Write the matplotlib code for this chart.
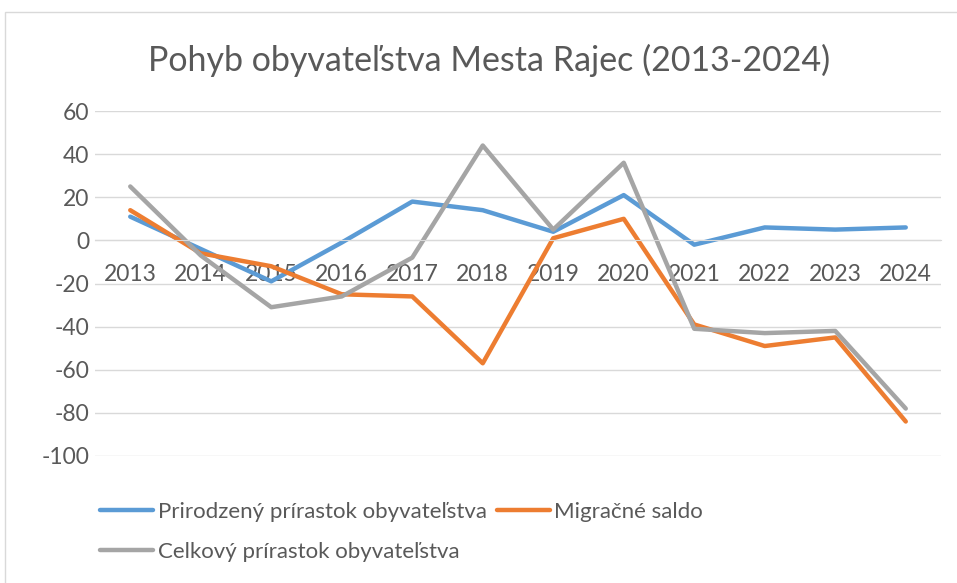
import matplotlib.pyplot as plt
from matplotlib.patches import Rectangle

years = ['2013', '2014', '2015', '2016', '2017', '2018', '2019', '2020', '2021', '2022', '2023', '2024']
natural = [11, -4, -19, -1, 18, 14, 4, 21, -2, 6, 5, 6]
migration = [14, -6, -12, -25, -26, -57, 1, 10, -39, -49, -45, -84]
total = [25, -7, -31, -26, -8, 44, 5, 36, -41, -43, -42, -78]

labels = ['Prirodzený prírastok obyvateľstva', 'Migračné saldo', 'Celkový prírastok obyvateľstva']
colors = ['#5B9BD5', '#ED7D31', '#A5A5A5']
yticks = [60, 40, 20, 0, -20, -40, -60, -80, -100]

plt.rcParams['font.family'] = ['Lato', 'DejaVu Sans']

fig = plt.figure(figsize=(9.57, 5.83), dpi=100)
ax = fig.add_axes([95 / 957, 1 - 456 / 583, (941 - 95) / 957, (456 - 111) / 583])

x = range(len(years))
lines = []
for series, col, lab in zip([natural, migration, total], colors, labels):
    ln, = ax.plot(x, series, color=col, lw=3.2, label=lab, solid_capstyle='round', solid_joinstyle='round')
    lines.append(ln)

ax.set_xlim(-0.5, len(years) - 0.5)
ax.set_ylim(-100, 60)
ax.set_yticks(yticks)
ax.set_yticklabels([str(v) for v in yticks], fontsize=16.5, color='#595959')
ax.yaxis.grid(True, color='#d9d9d9', lw=1)
ax.set_axisbelow(True)
for s in ['top', 'right', 'left']:
    ax.spines[s].set_visible(False)
ax.spines['bottom'].set_position(('data', 0))
ax.spines['bottom'].set_color('#d9d9d9')
ax.set_xticks(list(x))
ax.set_xticklabels(years, fontsize=16.5, color='#595959')
ax.tick_params(axis='both', length=0)
ax.tick_params(axis='x', pad=17)
ax.tick_params(axis='y', pad=4)

fig.text(0.511, 1 - 60 / 583, 'Pohyb obyvateľstva Mesta Rajec (2013-2024)', ha='center', va='center',
         fontsize=24.5, color='#595959')

# chart border
fig.patches.append(Rectangle((5 / 957, -0.01), 1.1, 1 - 12 / 583 + 0.01, transform=fig.transFigure,
                             fill=False, edgecolor='#d9d9d9', lw=1))

handles = [lines[0], lines[2], lines[1]]
leg = fig.legend(handles, [h.get_label() for h in handles], ncol=2, loc='upper left',
                 bbox_to_anchor=(91 / 957, 1 - 493 / 583), frameon=False, fontsize=16,
                 borderaxespad=0, handlelength=2.4, handletextpad=0.2, columnspacing=0.45,
                 labelspacing=0.9)
for t in leg.get_texts():
    t.set_color('#595959')

fig.savefig('out.png', dpi=100)
